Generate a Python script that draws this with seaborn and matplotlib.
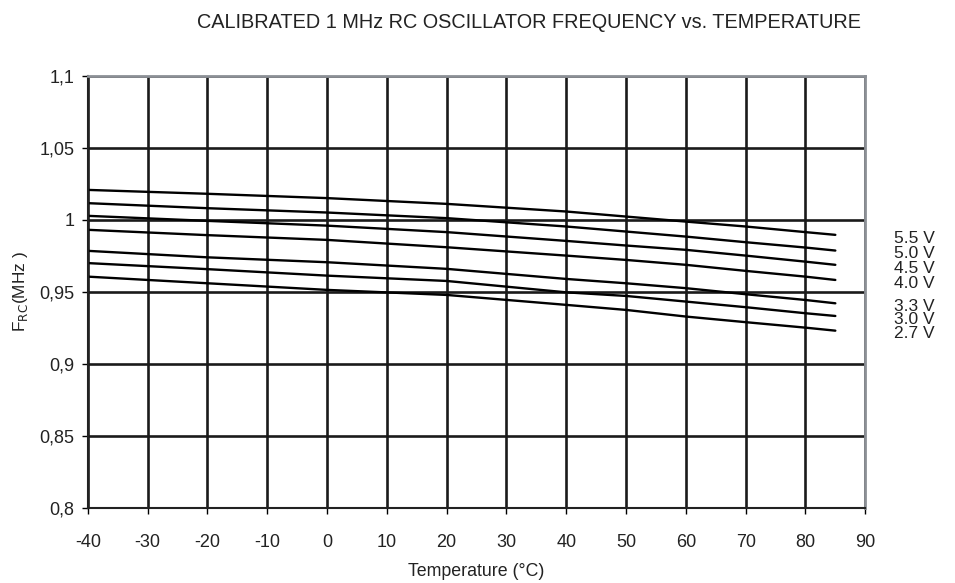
import pandas as pd
import matplotlib.pyplot as plt
import seaborn as sns

# Values
temps = [-40, -20, 0, 20, 40, 50, 60, 70, 80, 85]
v55 = [1.0208, 1.0181, 1.0151, 1.0111, 1.0058, 1.0023, 0.9988, 0.9954, 0.9915, 0.9896]
v50 = [1.0116, 1.0081, 1.0051, 1.0012, 0.9954, 0.9919, 0.9884, 0.9845, 0.9808, 0.9787]
v45 = [1.0028, 0.9993, 0.9960, 0.9915, 0.9854, 0.9822, 0.9792, 0.9752, 0.9710, 0.9688]
v40 = [0.9931, 0.9894, 0.9861, 0.9810, 0.9752, 0.9722, 0.9688, 0.9646, 0.9606, 0.9583]
v33 = [0.9785, 0.9740, 0.9706, 0.9660, 0.9590, 0.9560, 0.9526, 0.9484, 0.9444, 0.9421]
v30 = [0.9700, 0.9658, 0.9613, 0.9576, 0.9497, 0.9472, 0.9433, 0.9394, 0.9352, 0.9333]
v27 = [0.9606, 0.9560, 0.9514, 0.9479, 0.9410, 0.9375, 0.9329, 0.9290, 0.9252, 0.9231]

voltages = ['5.5 V', '5.0 V', '4.5 V', '4.0 V', '3.3 V', '3.0 V', '2.7 V']
series = [v55, v50, v45, v40, v33, v30, v27]

x_ticks = list(range(-40, 100, 10))
y_ticks = [0.8, 0.85, 0.9, 0.95, 1.0, 1.05, 1.1]
y_tick_labels = ['0,8', '0,85', '0,9', '0,95', '1', '1,05', '1,1']

rows = []
for v, vals in zip(voltages, series):
    for t, f in zip(temps, vals):
        rows.append({'Temperature': t, 'Freq': f, 'Voltage': v})
df = pd.DataFrame(rows)

sns.set_style('white')
plt.rcParams['font.family'] = ['Liberation Sans', 'DejaVu Sans']

fig = plt.figure(figsize=(9.55, 5.83), dpi=100)
ax = fig.add_axes([0.092, 0.1286, 0.814, 0.7414])

sns.lineplot(data=df, x='Temperature', y='Freq', hue='Voltage',
             palette=['black'] * len(voltages), linewidth=1.7,
             legend=False, ax=ax)

ax.set_xlim(-40, 90)
ax.set_ylim(0.8, 1.1)
ax.set_xticks(x_ticks)
ax.set_xticklabels([str(t) for t in x_ticks])
ax.set_yticks(y_ticks)
ax.set_yticklabels(y_tick_labels)
ax.grid(True, color='#1a1a1a', linewidth=1.9)
ax.tick_params(axis='both', labelsize=13, direction='out', length=4.5,
               width=1, color='black', bottom=True, left=True,
               labelcolor='#222222')
ax.tick_params(axis='x', pad=14)
ax.tick_params(axis='y', pad=5)

for s in ['left', 'bottom']:
    ax.spines[s].set_color('#222222')
    ax.spines[s].set_linewidth(1.5)
for s in ['top', 'right']:
    ax.spines[s].set_color('#8c9096')
    ax.spines[s].set_linewidth(2)

ax.set_xlabel('Temperature (°C)', fontsize=12.8, labelpad=9, color='#222222')
ax.set_ylabel('F$_{\\mathrm{RC}}$(MHz )', fontsize=12.4, labelpad=7, color='#222222')
fig.text(0.554, 0.962, 'CALIBRATED 1 MHz RC OSCILLATOR FREQUENCY vs. TEMPERATURE',
         ha='center', va='center', fontsize=14.3, color='#222222')

# voltage labels to the right of the line ends (tightly stacked, as in the source)
for v, vals in zip(voltages, series):
    ax.annotate(v, xy=(temps[-1], vals[-1]), xytext=(42, -2.3),
                textcoords='offset points', ha='left', va='center',
                fontsize=12.5, color='#222222', annotation_clip=False,
                linespacing=0.9)

plt.savefig('out.png', dpi=100)
